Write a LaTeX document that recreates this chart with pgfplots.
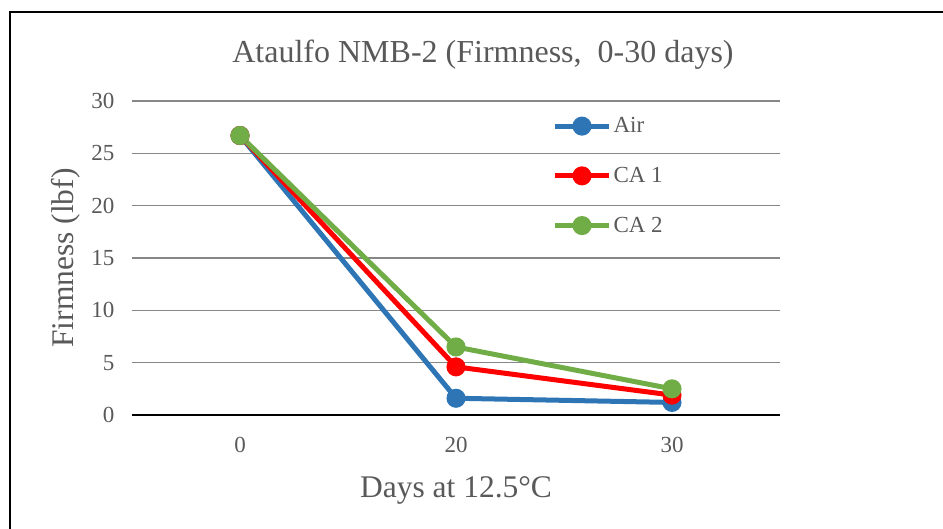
\documentclass[border=0pt]{standalone}
\usepackage{pgfplots}
\pgfplotsset{compat=1.18}
\usepackage{fontspec}
\setmainfont{Liberation Serif}
\definecolor{airblue}{HTML}{2E75B6}
\definecolor{cared}{HTML}{FF0000}
\definecolor{cagreen}{HTML}{70AD47}
\definecolor{txt}{HTML}{595959}
\definecolor{gridc}{HTML}{878787}
\begin{document}
\begin{tikzpicture}[x=1pt,y=1pt]
\useasboundingbox (0,0) rectangle (943,-529);
\begin{scope}
\clip (0,0) rectangle (943,-529);
\draw[line width=2pt] (10,-540) -- (10,-12) -- (960,-12);
\end{scope}
\node[anchor=base, font=\fontsize{32}{32}\selectfont, text=txt] at (483,-63) {Ataulfo NMB-2 (Firmness,\ \ 0-30 days)};
\node[anchor=base, font=\fontsize{31.5}{31.5}\selectfont, text=txt] at (456,-497) {Days at 12.5°C};
\node[rotate=90, font=\fontsize{31.5}{31.5}\selectfont, text=txt] at (66,-258) {Firmness (lbf)};
\begin{axis}[
  at={(132pt,-415pt)}, anchor=south west,
  width=648pt, height=314pt, scale only axis,
  xmin=-0.5, xmax=2.5, ymin=0, ymax=30,
  ytick={0,5,...,30}, xtick={0,1,2}, xticklabels={0,20,30},
  ymajorgrids, grid style={gridc, line width=1.5pt},
  axis x line*=bottom, axis y line*=left,
  y axis line style={draw=none},
  x axis line style={-, black, line width=1.5pt},
  major tick length=0,
  tick label style={font=\fontsize{23}{23}\selectfont, text=txt},
  /pgf/number format/assume math mode=true,
  yticklabel style={xshift=-14pt},
  xticklabel style={yshift=-19pt},
  clip=false,
  legend style={draw=none, fill=none, font=\fontsize{23}{23}\selectfont, text=txt,
    at={(axis description cs:0.644,0.96)}, anchor=north west, row sep=29pt},
  legend cell align=left,
  legend image code/.code={\draw[mark repeat=2, mark phase=2] plot coordinates {(0pt,0pt) (27pt,0pt) (54pt,0pt)};},
  every axis plot/.append style={line width=5pt, mark=*, mark size=7pt, mark options={solid}},
]
\addplot[color=airblue] coordinates {(0,26.7) (1,1.6) (2,1.2)};
\addlegendentry{Air}
\addplot[color=cared] coordinates {(0,26.7) (1,4.6) (2,1.9)};
\addlegendentry{CA 1}
\addplot[color=cagreen] coordinates {(0,26.7) (1,6.5) (2,2.5)};
\addlegendentry{CA 2}
\end{axis}
\end{tikzpicture}
\end{document}
